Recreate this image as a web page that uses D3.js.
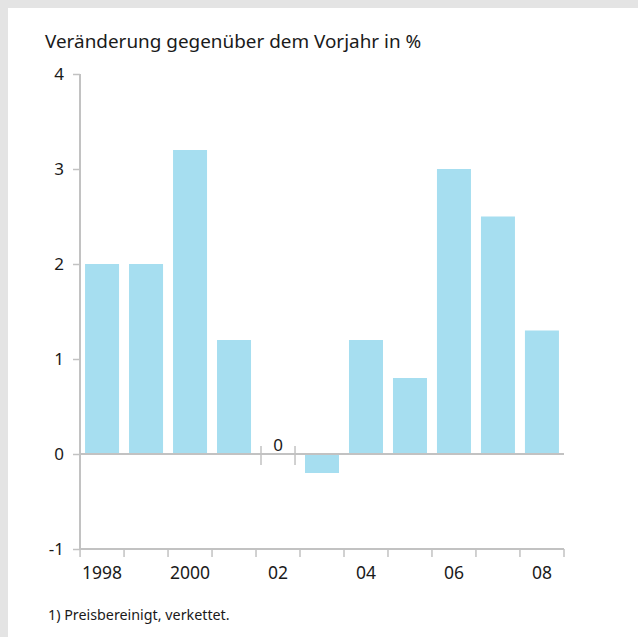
<!DOCTYPE html>
<html><head><meta charset="utf-8">
<script src="https://cdn.jsdelivr.net/npm/d3@7"></script>
<style>body{margin:0;background:#fff}svg{display:block}text{font-family:"Noto Sans",sans-serif;fill:#1a1a1a}</style>
</head><body>
<script>
const years = ["1998","1999","2000","2001","2002","2003","2004","2005","2006","2007","2008"];
const values = [2.0, 2.0, 3.2, 1.2, 0, -0.2, 1.2, 0.8, 3.0, 2.5, 1.3];
const xLabels = {"1998":"1998","2000":"2000","2002":"02","2004":"04","2006":"06","2008":"08"};
const yTicks = [-1, 0, 1, 2, 3, 4];
const title = "Veränderung gegenüber dem Vorjahr in %";
const footnote = "1) Preisbereinigt, verkettet.";

const W = 638, H = 637;
const svg = d3.select("body").append("svg").attr("width", W).attr("height", H);
svg.append("rect").attr("width", W).attr("height", H).attr("fill", "#e4e4e4");
svg.append("rect").attr("x", 8).attr("y", 8).attr("width", W - 8).attr("height", H - 8).attr("fill", "#fff");

const x = d3.scaleBand().domain(years).range([80, 564]).paddingInner(0.227).paddingOuter(0.115);
const y = d3.scaleLinear().domain([-1, 4]).range([549, 74]);
const axisColor = "#c2c2c2";

svg.append("text").attr("x", 45).attr("y", 48).attr("font-size", 18.9).text(title);

// bars
svg.selectAll("rect.bar").data(years).join("rect").attr("class", "bar")
  .attr("x", d => x(d))
  .attr("width", x.bandwidth())
  .attr("y", (d, i) => y(Math.max(0, values[i])))
  .attr("height", (d, i) => Math.abs(y(values[i]) - y(0)))
  .attr("fill", "#a6def0");

// zero line
svg.append("line").attr("x1", 80).attr("x2", 564).attr("y1", y(0)).attr("y2", y(0))
  .attr("stroke", axisColor).attr("stroke-width", 2);

// zero-value markers
years.forEach((d, i) => {
  if (values[i] === 0) {
    [x(d), x(d) + x.bandwidth()].forEach(px => {
      svg.append("line").attr("x1", px).attr("x2", px).attr("y1", y(0) - 8).attr("y2", y(0) + 11)
        .attr("stroke", axisColor).attr("stroke-width", 1.5);
    });
    svg.append("text").attr("x", x(d) + x.bandwidth() / 2).attr("y", y(0) - 3)
      .attr("text-anchor", "middle").attr("font-size", 17).text("0");
  }
});

// y axis
const yAxis = svg.append("g").attr("transform", "translate(80,0)")
  .call(d3.axisLeft(y).tickValues(yTicks).tickSize(7).tickPadding(9).tickFormat(d => String(d)));
yAxis.select(".domain").attr("stroke", axisColor).attr("stroke-width", 2).attr("d", `M0,${y(4)}V${y(-1)}`);
yAxis.selectAll(".tick line").attr("stroke", axisColor).attr("stroke-width", 1.5);
yAxis.selectAll(".tick text").attr("font-size", 17).attr("font-family", "Noto Sans").attr("fill", "#1a1a1a");

// x axis
const xg = svg.append("g").attr("transform", `translate(0,${y(-1)})`);
xg.append("line").attr("x1", 80).attr("x2", 564).attr("y1", 0).attr("y2", 0).attr("stroke", axisColor).attr("stroke-width", 2);
const edges = years.map(d => x(d) - x.step() * x.paddingInner() / 2).concat([564]);
xg.selectAll("line.t").data(edges).join("line").attr("class", "t")
  .attr("x1", d => d).attr("x2", d => d).attr("y1", 0).attr("y2", 8)
  .attr("stroke", axisColor).attr("stroke-width", 1.5);
xg.selectAll("text").data(years.filter(d => xLabels[d])).join("text")
  .attr("x", d => x(d) + x.bandwidth() / 2).attr("y", 30)
  .attr("text-anchor", "middle").attr("font-size", 17.5).text(d => xLabels[d]);

svg.append("text").attr("x", 48).attr("y", 620).attr("font-size", 14.3).text(footnote);
</script>
</body></html>
